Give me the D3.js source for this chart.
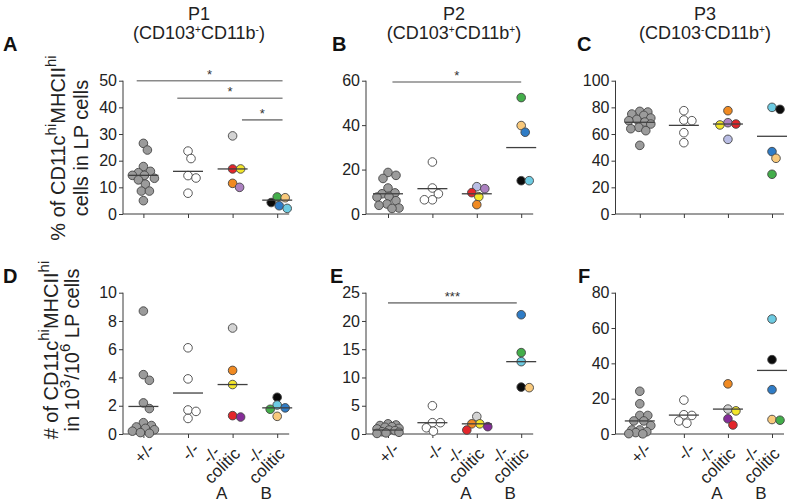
<!DOCTYPE html>
<html><head><meta charset="utf-8">
<script src="https://cdn.jsdelivr.net/npm/d3@7"></script>
<style>body{margin:0;background:#fff}svg{display:block}text{font-family:"Liberation Sans",Arial,Helvetica,sans-serif}</style>
</head><body><svg id="c" width="794" height="504"></svg>
<script>
// ---------- data ----------
const groupLabels = ["+/-", "-/-", "-/-\ncolitic", "-/-\ncolitic"];
const colitisLetters = ["", "", "A", "B"];
const titles = ["P1", "P2", "P3"];
const subtitleMarks = [["+", "-"], ["+", "+"], ["-", "+"]];

// A: % of CD11c hi MHCII hi in LP cells, P1
const aHet = [26.5, 24, 17.8, 16, 15.5, 14.5, 14.5, 13.4, 12.8, 11.2, 8.6, 8.6, 5];
const aKo = [23.6, 20.8, 14.4, 13.5, 7.8];
const aColA = [29.3, 16.9, 16.9, 11.5, 10];
const aColAMice = ["lgray", "red", "yellow", "orange", "lilac"];
const aColB = [6.4, 6.1, 4.3, 3.1, 2.1];
const aColBMice = ["green", "peach", "black", "blue", "cyan"];
const aLines = [14.5, 16, 16.9, 5.2];
const aTicks = [0, 10, 20, 30, 40, 50];
const aSig = [[-0.15, 3.12, 50, "*"], [0.76, 3.12, 43.4, "*"], [2.21, 3.12, 35.3, "*"]];

// B: P2
const bHet = [18.7, 17.4, 16, 11.7, 9.5, 9.1, 7.9, 7.6, 6, 4.5, 3.9, 2.7, 2.5];
const bKo = [23.4, 11.7, 9.1, 6.4, 6.4];
const bColA = [12.3, 11.4, 9.6, 7.8, 4.2];
const bColAMice = ["lavender", "lilac", "red", "yellow", "orange"];
const bColB = [52.4, 39.8, 36.8, 15, 15];
const bColBMice = ["green", "peach", "blue", "black", "cyan"];
const bLines = [9.1, 11.4, 9.1, 29.9];
const bTicks = [0, 20, 40, 60];
const bSig = [[0.1, 3.0, 59.4, "*"]];

// C: P3
const cHet = [77, 76.5, 75, 74, 72, 71, 70, 69, 67.5, 65, 64, 62.5, 51.5];
const cKo = [77.5, 70.5, 70, 61, 53.5];
const cColA = [77.5, 68.5, 67.5, 66.8, 56];
const cColAMice = ["orange", "lilac", "red", "yellow", "lavender"];
const cColB = [80, 78.5, 46.8, 41.8, 29.8];
const cColBMice = ["cyan", "black", "blue", "peach", "green"];
const cLines = [68.8, 66.5, 67.5, 58.3];
const cTicks = [0, 20, 40, 60, 80, 100];
const cSig = [];

// D: # in 10^3/10^6 LP cells, P1
const dHet = [8.7, 4.2, 3.8, 2.2, 1.8, 0.8, 0.6, 0.5, 0.4, 0.3, 0.2, 0.1, 0.05];
const dKo = [6.1, 3.9, 1.7, 1.6, 1.1];
const dColA = [7.5, 4.5, 3.5, 1.3, 1.2];
const dColAMice = ["lgray", "orange", "yellow", "red", "purple"];
const dColB = [2.6, 2.05, 1.85, 1.75, 1.25];
const dColBMice = ["black", "cyan", "blue", "green", "peach"];
const dLines = [1.95, 2.9, 3.5, 1.85];
const dTicks = [0, 2, 4, 6, 8, 10];
const dSig = [];

// E: P2
const eHet = [1.8, 1.6, 1.5, 1.3, 1.2, 1.0, 0.9, 0.7, 0.6, 0.4, 0.3, 0.2, 0.1];
const eKo = [5.0, 2.0, 2.0, 1.1, 0.5];
const eColA = [3.1, 1.8, 1.8, 1.3, 0.7];
const eColAMice = ["lgray", "yellow", "orange", "purple", "red"];
const eColB = [21.1, 14.4, 12.8, 8.3, 8.2];
const eColBMice = ["blue", "green", "cyan", "black", "peach"];
const eLines = [0.7, 2.0, 1.8, 12.8];
const eTicks = [0, 5, 10, 15, 20, 25];
const eSig = [[0, 2.9, 23.2, "***"]];

// F: P3
const fHet = [24.2, 17.1, 10.5, 10.5, 7.4, 7.4, 4.8, 2.3, 2.3, 1.3, 0.8, 0.2, 0.1];
const fKo = [19.2, 10.9, 10.5, 7.4, 6.1];
const fColA = [28.4, 14.1, 13.1, 8.6, 5.1];
const fColAMice = ["orange", "lgray", "yellow", "purple", "red"];
const fColB = [65.1, 42.1, 25.1, 8.2, 7.8];
const fColBMice = ["cyan", "black", "blue", "peach", "green"];
const fLines = [7.4, 10.7, 14.1, 36];
const fTicks = [0, 20, 40, 60, 80];
const fSig = [];

// ---------- styles / layout ----------
const mouseColor = {het:"#9b9b9b", ko:"#ffffff", lgray:"#d3d3d3", red:"#e3262b", yellow:"#f3e62a",
  orange:"#f08a22", lilac:"#ab80c0", purple:"#852c98", lavender:"#b9bde4", green:"#43ae4a",
  peach:"#f9c97b", black:"#0a0a0a", blue:"#2f7cc6", cyan:"#6dcbe2"};
const cols = [{axisX:123, x0:143.4, x3:277.2}, {axisX:366, x0:388, x3:521.2}, {axisX:615.5, x0:639.8, x3:772}];
const rows = [{top:80.7, bottom:214}, {top:292.7, bottom:434}];
const R = 4.3;

const panels = [
  {id:"A", row:0, col:0, het:aHet, ko:aKo, ca:aColA, cam:aColAMice, cb:aColB, cbm:aColBMice, lines:aLines, ticks:aTicks, sig:aSig, lx:3},
  {id:"B", row:0, col:1, het:bHet, ko:bKo, ca:bColA, cam:bColAMice, cb:bColB, cbm:bColBMice, lines:bLines, ticks:bTicks, sig:bSig, lx:332},
  {id:"C", row:0, col:2, het:cHet, ko:cKo, ca:cColA, cam:cColAMice, cb:cColB, cbm:cColBMice, lines:cLines, ticks:cTicks, sig:cSig, lx:577},
  {id:"D", row:1, col:0, het:dHet, ko:dKo, ca:dColA, cam:dColAMice, cb:dColB, cbm:dColBMice, lines:dLines, ticks:dTicks, sig:dSig, lx:3},
  {id:"E", row:1, col:1, het:eHet, ko:eKo, ca:eColA, cam:eColAMice, cb:eColB, cbm:eColBMice, lines:eLines, ticks:eTicks, sig:eSig, lx:330},
  {id:"F", row:1, col:2, het:fHet, ko:fKo, ca:fColA, cam:fColAMice, cb:fColB, cbm:fColBMice, lines:fLines, ticks:fTicks, sig:fSig, lx:578}
];

const svg = d3.select("#c");
const axisColor = "#3a3a3a";

function swarm(vals, cx, y) {
  const placed = [];
  const cand = [0];
  for (let k = 1; k <= 11; k++) { cand.push(k, -k); }
  return vals.map(v => {
    const py = y(v);
    let best = null, bestD = -1;
    for (const o of cand) {
      const px = cx + o;
      let md = Infinity;
      for (const p of placed) md = Math.min(md, Math.hypot(p[0] - px, p[1] - py));
      if (md >= 2 * R * 0.9) { best = px; bestD = md; break; }
      if (md > bestD) { bestD = md; best = px; }
    }
    placed.push([best, py]);
    return [best, py];
  });
}

panels.forEach(p => {
  const c = cols[p.col], r = rows[p.row];
  const y = d3.scaleLinear().domain([0, d3.max(p.ticks)]).range([r.bottom, r.top]);
  const x = d3.scaleLinear().domain([0, 3]).range([c.x0, c.x3]);
  const g = svg.append("g");

  // y axis
  const ya = g.append("g").attr("transform", `translate(${c.axisX},0)`)
    .call(d3.axisLeft(y).tickValues(p.ticks).tickSize(4).tickPadding(2).tickFormat(d3.format("d")));
  ya.select(".domain").attr("stroke", axisColor).attr("d", `M0,${r.bottom}V${r.top}`);
  ya.selectAll(".tick line").attr("stroke", axisColor);
  ya.selectAll(".tick text").attr("fill", "#222").style("font-size", "16px").attr("font-family", null);

  // x axis
  const xa = g.append("g").attr("transform", `translate(0,${r.bottom})`)
    .call(d3.axisBottom(x).tickValues([0, 1, 2, 3]).tickSize(4));
  xa.selectAll(".tick text").remove();
  xa.select(".domain").attr("stroke", axisColor).attr("d", `M${c.axisX},0H${c.x3 + 12}`);
  xa.selectAll(".tick line").attr("stroke", axisColor);

  // points
  const groups = [
    p.het.map(v => ({v, m:"het"})),
    p.ko.map(v => ({v, m:"ko"})),
    p.ca.map((v, i) => ({v, m:p.cam[i]})),
    p.cb.map((v, i) => ({v, m:p.cbm[i]}))
  ];
  groups.forEach((grp, gi) => {
    const pos = swarm(grp.map(d => d.v), x(gi), y);
    g.append("g").selectAll("circle").data(grp).join("circle")
      .attr("cx", (d, i) => pos[i][0]).attr("cy", (d, i) => pos[i][1]).attr("r", R)
      .attr("fill", d => mouseColor[d.m]).attr("stroke", "#454545").attr("stroke-width", 0.9);
  });

  // mean lines
  g.append("g").selectAll("line").data(p.lines).join("line")
    .attr("x1", (d, i) => x(i) - 15).attr("x2", (d, i) => x(i) + 15)
    .attr("y1", d => y(d)).attr("y2", d => y(d))
    .attr("stroke", "#404040").attr("stroke-width", 1.3);

  // significance bars
  p.sig.forEach(s => {
    g.append("line").attr("x1", x(s[0])).attr("x2", x(s[1])).attr("y1", y(s[2])).attr("y2", y(s[2]))
      .attr("stroke", "#8a8a8a").attr("stroke-width", 1.6);
    g.append("text").attr("x", (x(s[0]) + x(s[1])) / 2).attr("y", y(s[2]) - 2)
      .attr("text-anchor", "middle").style("font-size", "13px").attr("fill", "#333").text(s[3]);
  });

  // panel letter
  svg.append("text").attr("x", p.lx).attr("y", p.row === 0 ? 51 : 282.5)
    .style("font-size", "20px").style("font-weight", "bold").attr("fill", "#111").text(p.id);

  // rotated group labels on bottom row
  if (p.row === 1) {
    groupLabels.forEach((lab, gi) => {
      const lines = lab.split("\n");
      const two = lines.length > 1;
      const ax = x(gi) + (two ? -1 : 8), ay = r.bottom + (two ? 11 : 12);
      const t = svg.append("g").attr("transform", `translate(${ax},${ay}) rotate(-45)`);
      const texts = lines.map((ln, li) => t.append("text")
        .attr("y", (li - (lines.length - 1) / 2) * 15.5).attr("dy", "0.35em")
        .style("font-size", "17px").attr("fill", "#222").text(ln));
      const wmax = d3.max(texts, tt => tt.node().getComputedTextLength());
      texts.forEach(tt => tt.attr("x", -wmax / 2).attr("text-anchor", "middle"));
      if (colitisLetters[gi]) {
        svg.append("text").attr("x", x(gi) - 11).attr("y", 499).attr("text-anchor", "middle")
          .style("font-size", "17px").attr("fill", "#222").text(colitisLetters[gi]);
      }
    });
  }
});

// column titles
const titleX = [199, 454, 705];
titles.forEach((tt, i) => {
  svg.append("text").attr("x", titleX[i]).attr("y", 20).attr("text-anchor", "middle")
    .style("font-size", "18px").attr("fill", "#222").text(tt);
  const st = svg.append("text").attr("x", titleX[i]).attr("y", 39).attr("text-anchor", "middle")
    .style("font-size", "18px").attr("fill", "#222");
  st.append("tspan").text("(CD103");
  st.append("tspan").attr("dy", -6).style("font-size", "10px").text(subtitleMarks[i][0]);
  st.append("tspan").attr("dy", 6).text("CD11b");
  st.append("tspan").attr("dy", -6).style("font-size", "10px").text(subtitleMarks[i][1]);
  st.append("tspan").attr("dy", 6).text(")");
});

// y-axis titles
function ylabel(cx, cy, parts1, parts2, b1, b2) {
  const g = svg.append("g").attr("transform", `translate(${cx},${cy}) rotate(-90)`);
  [[parts1, b1], [parts2, b2]].forEach(([parts, yb]) => {
    const t = g.append("text").attr("x", 0).attr("y", yb).attr("text-anchor", "middle")
      .style("font-size", "20px").attr("fill", "#222");
    let raised = false;
    parts.forEach(pt => {
      const ts = t.append("tspan").text(pt.t);
      if (pt.sup) { ts.style("font-size", "15px").attr("dy", raised ? 0 : -9); raised = true; }
      else { if (raised) ts.attr("dy", 9); raised = false; }
    });
  });
}
ylabel(0, 148,
  [{t:"% of CD11c"}, {t:"hi", sup:true}, {t:"MHCII"}, {t:"hi", sup:true}],
  [{t:"cells in LP cells"}], 65, 88);
ylabel(0, 350,
  [{t:"# of CD11c"}, {t:"hi", sup:true}, {t:"MHCII"}, {t:"hi", sup:true}],
  [{t:"in 10"}, {t:"3", sup:true}, {t:"/10"}, {t:"6", sup:true}, {t:" LP cells"}], 58, 79);
</script></body></html>
